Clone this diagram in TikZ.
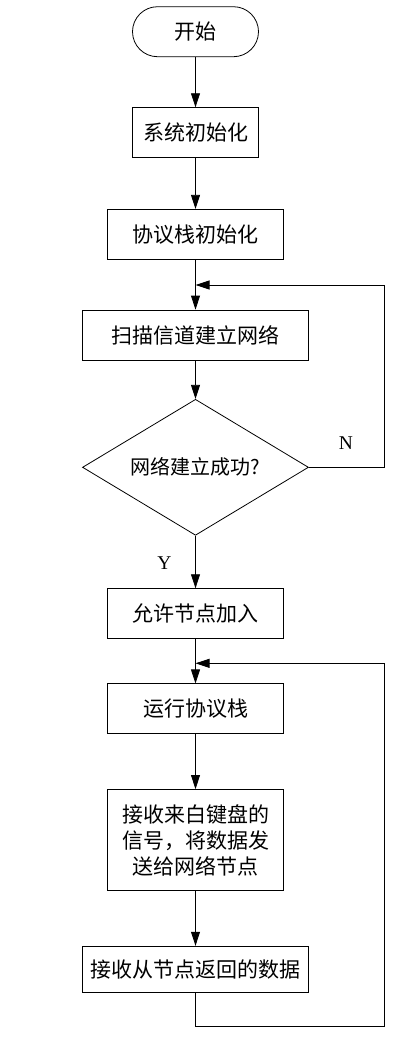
\documentclass[tikz,border=0pt]{standalone}
\usepackage{fontspec}
\usepackage{tikz}
\usetikzlibrary{shapes.geometric, arrows.meta}
\newfontfamily\cjk{Noto Sans CJK SC}
\newfontfamily\latin{Liberation Serif}

\begin{document}
\begin{tikzpicture}[x=1pt, y=-1pt, line width=0.8pt,
		box/.style={draw, rectangle, minimum height=50pt, inner sep=0pt, font=\cjk\fontsize{21}{26}\selectfont, align=center},
		term/.style={box, rounded corners=25pt, minimum width=126pt},
		decide/.style={draw, diamond, shape aspect=1.66, minimum width=226pt, minimum height=136pt, inner sep=0pt, font=\cjk\fontsize{20}{24}\selectfont},
		yn/.style={font=\latin\fontsize{19.5}{22}\selectfont},
		arr/.style={-{Triangle[length=14pt, width=9pt]}}]
		\useasboundingbox (0, 0) rectangle (420, 1058);
		\node[term] (start) at (195.5, 31.7) {开始};
		\node[box, minimum width=126pt] (sysinit) at (195.5, 132.7) {系统初始化};
		\node[box, minimum width=176pt] (stackinit) at (195.5, 234.3) {协议栈初始化};
		\node[box, minimum width=226pt] (scan) at (195.5, 335) {扫描信道建立网络};
		\node[decide] (ok) at (195.5, 467.3) {网络建立成功?};
		\node[box, minimum width=176pt] (allow) at (195.5, 613.7) {允许节点加入};
		\node[box, minimum width=176pt] (run) at (195.5, 708.8) {运行协议栈};
		\node[box, minimum width=176pt, minimum height=101pt] (recv) at (195.5, 840) {接收来白键盘的\\信号，将数据发\\送给网络节点};
		\node[box, minimum width=226pt, minimum height=46pt] (back) at (195.5, 969.2) {接收从节点返回的数据};
		\node[yn] (no) at (346, 443.3) {N};
		\node[yn] (yes) at (164.3, 562.7) {Y};
		\coordinate (j1) at (195.5, 285);
		\coordinate (r1) at (384.3, 285);
		\coordinate (j2) at (195.5, 663.3);
		\coordinate (r2) at (384.3, 663.3);
		\coordinate (bl) at (195.5, 1026.7);
		\coordinate (br) at (384.3, 1026.7);
		\draw[arr] (start) -- (sysinit);
		\draw[arr] (sysinit) -- (stackinit);
		\draw[arr] (stackinit) -- (scan);
		\draw[arr] (scan) -- (ok);
		\draw[arr] (ok.east) -| (r1) -- (j1);
		\draw[arr] (ok.south) -- (allow);
		\draw[arr] (allow) -- (run);
		\draw[arr] (run) -- (recv);
		\draw[arr] (recv) -- (back);
		\draw[arr] (back) -- (bl) -- (br) -- (r2) -- (j2);
	\end{tikzpicture}
\end{document}
